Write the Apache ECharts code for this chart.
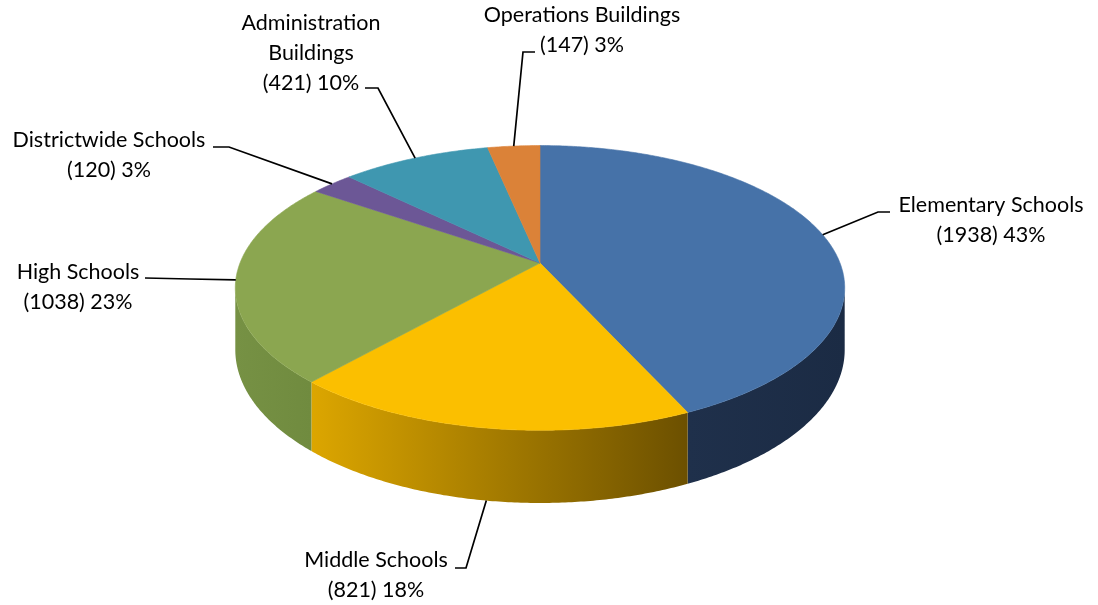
<!DOCTYPE html>
<html>
<head>
<meta charset="utf-8">
<script src="https://cdn.jsdelivr.net/npm/echarts@6/dist/echarts.min.js"></script>
<style>
  html, body { margin: 0; padding: 0; background: #ffffff; }
  #chart { width: 1098px; height: 605px; }
</style>
</head>
<body>
<div id="chart"></div>
<script>
// Facilities by building type
const categories = ['Elementary Schools', 'Middle Schools', 'High Schools', 'Districtwide Schools', 'Administration Buildings', 'Operations Buildings'];
const labelNames = ['Elementary Schools', 'Middle Schools', 'High Schools', 'Districtwide Schools', 'Administration\nBuildings', 'Operations Buildings'];
const counts = [1938, 821, 1038, 120, 421, 147];

// Slice colours: top face and side wall (left -> right gradient)
const topColors = ['#4672a8', '#fbbf00', '#8ba650', '#6c5796', '#3f97b0', '#db8238'];
const sideColors = [
  ['#1f304b', '#1b2b44'],
  ['#dca600', '#6c5000'],
  ['#769144', '#708b3f'],
  ['#54446f', '#4d3e66'],
  ['#2f7589', '#2a6a7c'],
  ['#a9652b', '#9a5a26']
];

// Projected disc: centre, radii, perspective strength, wall height
const disc = { cx: 540, cy: 263, rx: 300, ry: 138, k: 0.175, depth: 60 };

// Label text anchor (centre x, first line centre y) and leader-line elbow points
const labelLayout = [
  { x: 991, y: 205, elbow: [[890, 212], [878, 212]] },
  { x: 376, y: 560, elbow: [[455, 568], [466, 568]] },
  { x: 78,  y: 272, elbow: [[145, 278], [190, 279]] },
  { x: 109, y: 140, elbow: [[213, 147], [229, 147]] },
  { x: 311, y: 23,  elbow: [[365, 88], [378, 88]] },
  { x: 582, y: 15,  elbow: [[535, 52], [523, 52]] }
];

const total = counts.reduce((a, b) => a + b, 0);

// Whole-number percentages that add up to 100 (largest remainder)
function percentages(values) {
  const raw = values.map(v => v / total * 100);
  const out = raw.map(Math.floor);
  const left = 100 - out.reduce((a, b) => a + b, 0);
  const order = raw.map((r, i) => [r - Math.floor(r), i]).sort((a, b) => b[0] - a[0]);
  for (let j = 0; j < left; j++) out[order[j][1]] += 1;
  return out;
}
const pct = percentages(counts);

// Angle measured clockwise from 12 o'clock, in degrees
function rim(deg, drop) {
  const t = deg * Math.PI / 180;
  const s = Math.sin(t), c = Math.cos(t);
  const f = 1 + disc.k * c;
  return [
    disc.cx + disc.rx * s / f,
    disc.cy - disc.ry * c / f + (drop ? disc.depth / f : 0)
  ];
}

function arcPoints(a, b, drop) {
  const pts = [];
  const n = Math.max(2, Math.ceil(Math.abs(b - a) / 0.5));
  for (let j = 0; j <= n; j++) pts.push(rim(a + (b - a) * j / n, drop));
  return pts;
}

// front part of the wall that faces the viewer
const wallFrom = Math.acos(-disc.k) * 180 / Math.PI;
const wallTo = 360 - wallFrom;

const starts = [];
counts.reduce((acc, v, i) => { starts[i] = acc; return acc + v; }, 0);

function renderItem(params, api) {
  const i = params.dataIndex;
  const value = api.value(0);
  const a0 = starts[i] / total * 360;
  const a1 = a0 + value / total * 360;
  const children = [];

  // side wall
  const w0 = Math.max(a0, wallFrom), w1 = Math.min(a1, wallTo);
  if (w1 > w0) {
    const upper = arcPoints(w0, w1, false);
    const lower = arcPoints(w0, w1, true).reverse();
    children.push({
      type: 'polygon',
      z2: 1,
      shape: { points: upper.concat(lower) },
      style: {
        fill: new echarts.graphic.LinearGradient(1, 0, 0, 0, [
          { offset: 0, color: sideColors[i][1] },
          { offset: 1, color: sideColors[i][0] }
        ])
      }
    });
  }

  // top face
  children.push({
    type: 'polygon',
    z2: 2,
    shape: { points: [[disc.cx, disc.cy]].concat(arcPoints(a0, a1, false)) },
    style: { fill: topColors[i], stroke: topColors[i], lineWidth: 0.6 }
  });

  // leader line from the slice edge to its label
  const mid = (a0 + a1) / 2;
  const onWall = mid > wallFrom && mid < wallTo;
  const anchor = rim(mid, onWall);
  const L = labelLayout[i];
  children.push({
    type: 'polyline',
    z2: 3,
    shape: { points: L.elbow.concat([anchor]) },
    style: { stroke: '#000000', lineWidth: 1.7, fill: null }
  });

  // label text
  children.push({
    type: 'text',
    z2: 4,
    x: L.x,
    y: L.y - 15,
    style: {
      text: labelNames[i] + '\n(' + value + ') ' + pct[i] + '%',
      fill: '#000000',
      font: '21.5px Lato, "Open Sans", sans-serif',
      align: 'center',
      verticalAlign: 'top',
      lineHeight: 30
    }
  });

  return { type: 'group', children: children };
}

const chart = echarts.init(document.getElementById('chart'), null, { renderer: 'canvas' });
chart.setOption({
  backgroundColor: '#ffffff',
  animation: false,
  series: [{
    type: 'custom',
    coordinateSystem: 'none',
    renderItem: renderItem,
    data: counts.map((v, i) => ({ name: categories[i], value: [v] }))
  }]
});
</script>
</body>
</html>
